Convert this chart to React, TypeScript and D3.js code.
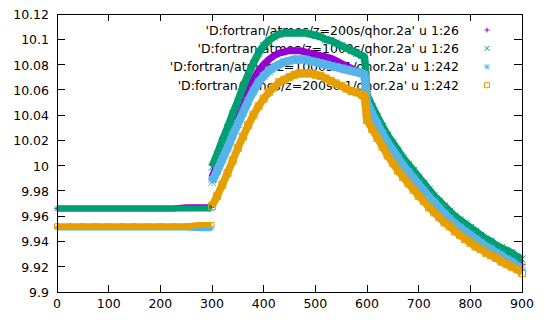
import React from "react";
import * as d3 from "d3";

// ---- axis ticks ----
const xTicks = [0, 100, 200, 300, 400, 500, 600, 700, 800, 900];
const xTickLabels = ["0", "100", "200", "300", "400", "500", "600", "700", "800", "900"];
const yTicks = [9.9, 9.92, 9.94, 9.96, 9.98, 10.0, 10.02, 10.04, 10.06, 10.08, 10.1, 10.12];
const yTickLabels = ["9.9", "9.92", "9.94", "9.96", "9.98", "10", "10.02", "10.04", "10.06", "10.08", "10.1", "10.12"];

// ---- legend ----
const legendLabels = [
  "'D:fortran/atmos/z=200s/qhor.2a' u 1:26",
  "'D:fortran/atmos/z=1000s/qhor.2a' u 1:26",
  "'D:fortran/atmos/z=1000s0.1/qhor.2a' u 1:242",
  "'D:fortran/atmos/z=200s0.1/qhor.2a' u 1:242",
];

// ---- time axes ----
const flatTimes = [0, 25, 50, 75, 100, 125, 150, 175, 200, 225, 250, 275, 299];
const mainTimes = [
  300, 310, 320, 330, 340, 350, 360, 370, 380, 390, 400, 410, 420, 430, 440, 450, 460, 470, 480, 490,
  500, 510, 520, 530, 540, 550, 560, 570, 580, 590, 595, 597, 598, 599,
  600, 610, 620, 630, 640, 650, 660, 670, 680, 690, 700, 710, 720, 730, 740, 750, 760, 770, 780, 790,
  800, 810, 820, 830, 840, 850, 860, 870, 880, 890, 900,
];

// ---- series 1: z=200s u 1:26 (purple +) ----
const purpleFlat = [9.966, 9.966, 9.966, 9.966, 9.966, 9.966, 9.966, 9.966, 9.966, 9.966, 9.967, 9.967, 9.967];
const purpleMain = [
  9.991, 10.001, 10.011, 10.021, 10.031, 10.041, 10.051, 10.06, 10.068, 10.075, 10.08, 10.084, 10.087, 10.089, 10.09, 10.091, 10.091, 10.091, 10.09, 10.089,
  10.088, 10.087, 10.086, 10.085, 10.083, 10.081, 10.079, 10.077, 10.075, 10.073, 10.072, 10.066, 10.06, 10.055,
  10.052, 10.043, 10.035, 10.027, 10.02, 10.014, 10.008, 10.002, 9.997, 9.992, 9.987, 9.982, 9.978, 9.973, 9.969, 9.965, 9.961, 9.957, 9.954, 9.951,
  9.948, 9.945, 9.942, 9.939, 9.937, 9.934, 9.932, 9.929, 9.927, 9.924, 9.922,
];

// ---- series 2: z=1000s u 1:26 (green x) ----
const greenFlat = [9.966, 9.966, 9.966, 9.966, 9.966, 9.966, 9.966, 9.966, 9.966, 9.966, 9.966, 9.966, 9.966];
const greenMain = [
  9.999, 10.009, 10.02, 10.03, 10.041, 10.051, 10.062, 10.072, 10.081, 10.089, 10.095, 10.099, 10.102, 10.104, 10.105, 10.105, 10.105, 10.105, 10.105, 10.104,
  10.103, 10.102, 10.1, 10.099, 10.097, 10.095, 10.093, 10.091, 10.089, 10.087, 10.086, 10.078, 10.07, 10.062,
  10.056, 10.047, 10.039, 10.031, 10.024, 10.018, 10.012, 10.006, 10.001, 9.996, 9.991, 9.986, 9.981, 9.976, 9.972, 9.968, 9.964, 9.96, 9.957, 9.954,
  9.951, 9.948, 9.945, 9.942, 9.94, 9.937, 9.935, 9.933, 9.931, 9.928, 9.926,
];

// ---- series 3: z=1000s0.1 u 1:242 (blue *) ----
const blueFlat = [9.951, 9.951, 9.951, 9.951, 9.951, 9.951, 9.951, 9.951, 9.951, 9.951, 9.951, 9.9505, 9.9505];
const blueMain = [
  9.987, 9.996, 10.005, 10.014, 10.024, 10.033, 10.042, 10.051, 10.059, 10.066, 10.071, 10.075, 10.078, 10.08, 10.082, 10.083, 10.084, 10.084, 10.084, 10.083,
  10.082, 10.081, 10.08, 10.079, 10.078, 10.077, 10.076, 10.075, 10.074, 10.073, 10.072, 10.065, 10.059, 10.054,
  10.05, 10.041, 10.033, 10.025, 10.018, 10.012, 10.006, 10.0, 9.995, 9.99, 9.985, 9.98, 9.975, 9.971, 9.966, 9.962, 9.958, 9.954, 9.951, 9.948,
  9.945, 9.942, 9.939, 9.936, 9.934, 9.931, 9.929, 9.926, 9.924, 9.921, 9.919,
];

// ---- series 4: z=200s0.1 u 1:242 (orange square) ----
const orangeFlat = [9.952, 9.952, 9.952, 9.952, 9.952, 9.952, 9.952, 9.952, 9.952, 9.952, 9.952, 9.953, 9.953];
const orangeMain = [
  9.968, 9.976, 9.985, 9.994, 10.004, 10.014, 10.023, 10.032, 10.04, 10.047, 10.053, 10.058, 10.062, 10.066, 10.068, 10.07, 10.072, 10.073, 10.073, 10.073,
  10.072, 10.071, 10.069, 10.067, 10.065, 10.063, 10.061, 10.059, 10.058, 10.056, 10.055, 10.05, 10.046, 10.041,
  10.036, 10.029, 10.022, 10.015, 10.008, 10.002, 9.996, 9.991, 9.986, 9.981, 9.976, 9.972, 9.967, 9.963, 9.959, 9.955, 9.952, 9.948, 9.945, 9.942,
  9.939, 9.936, 9.934, 9.931, 9.929, 9.927, 9.924, 9.922, 9.92, 9.918, 9.915,
];

const COLORS = ["#9400d3", "#009e73", "#56b4e9", "#e69f00"];
const MARKERS = ["plus", "cross", "star", "square"];
const MAIN_WIDTH = [7, 7.5, 8.5, 7.5];

type Pt = { t: number; v: number };

function markerPath(kind: string, s: number) {
  const plus = `M${-s},0H${s}M0,${-s}V${s}`;
  const cross = `M${-s},${-s}L${s},${s}M${-s},${s}L${s},${-s}`;
  if (kind === "plus") return plus;
  if (kind === "cross") return cross;
  if (kind === "star") return plus + cross;
  return `M${-s},${-s}H${s}V${s}H${-s}Z`;
}

export default function App() {
  const W = 545;
  const H = 320;
  const L = 57, R = 522, T = 14, B = 292;
  const x = d3.scaleLinear().domain([0, 900]).range([L, R]);
  const y = d3.scaleLinear().domain([9.9, 10.12]).range([B, T]);
  const font = "'DejaVu Sans', sans-serif";
  const fs = 12.5;

  const series = [
    { flat: purpleFlat, main: purpleMain },
    { flat: greenFlat, main: greenMain },
    { flat: blueFlat, main: blueMain },
    { flat: orangeFlat, main: orangeMain },
  ];

  const line = d3
    .line<Pt>()
    .x((d) => x(d.t))
    .y((d) => y(d.v));

  const legendY = [30, 48.4, 66.8, 85.2];

  return (
    <svg
      width={W}
      height={H}
      viewBox={`0 0 ${W} ${H}`}
      style={{ position: "absolute", left: 0, top: 0, background: "#fff" }}
    >
      <rect x={0} y={0} width={W} height={H} fill="#fff" />
      {/* ticks */}
      <g stroke="#000" strokeWidth={1} shapeRendering="crispEdges">
        {yTicks.map((v, i) => (
          <g key={"yt" + i}>
            <line x1={L} x2={L + 8} y1={y(v)} y2={y(v)} />
            <line x1={R} x2={R - 8} y1={y(v)} y2={y(v)} />
          </g>
        ))}
        {xTicks.map((v, i) => (
          <g key={"xt" + i}>
            <line x1={x(v)} x2={x(v)} y1={B} y2={B - 7} />
            <line x1={x(v)} x2={x(v)} y1={T} y2={T + 7} />
          </g>
        ))}
      </g>
      {/* tick labels */}
      <g fontFamily={font} fontSize={fs} fill="#000">
        {yTicks.map((v, i) => (
          <text key={"yl" + i} x={49} y={y(v) + 5} textAnchor="end">
            {yTickLabels[i]}
          </text>
        ))}
        {xTicks.map((v, i) => (
          <text key={"xl" + i} x={x(v)} y={307.5} textAnchor="middle">
            {xTickLabels[i]}
          </text>
        ))}
      </g>
      {/* legend text (drawn under the data) */}
      <g fontFamily={font} fontSize={fs} fill="#000">
        {legendLabels.map((lab, i) => (
          <text key={"lg" + i} x={459} y={legendY[i] + 4.5} textAnchor="end">
            {lab}
          </text>
        ))}
      </g>
      {/* data */}
      {series.map((s, si) => {
        const flatPts: Pt[] = flatTimes.map((t, i) => ({ t, v: s.flat[i] }));
        const mainPts: Pt[] = mainTimes.map((t, i) => ({ t, v: s.main[i] }));
        const mk = markerPath(MARKERS[si], 2.5);
        return (
          <g key={"s" + si} stroke={COLORS[si]} fill="none">
            <path d={line(flatPts) || ""} strokeWidth={6} />
            <path d={line(mainPts) || ""} strokeWidth={MAIN_WIDTH[si]} strokeLinejoin="round" />
            {mainPts.map((p, i) => (
              <path key={i} d={markerPath(MARKERS[si], MAIN_WIDTH[si] / 2 - 0.2)} transform={`translate(${x(p.t)},${y(p.v)})`} strokeWidth={1} />
            ))}
            {flatPts.map((p, i) => (
              <path key={"f" + i} d={mk} transform={`translate(${x(p.t)},${y(p.v)})`} strokeWidth={1} />
            ))}
          </g>
        );
      })}
      {/* legend samples */}
      {legendLabels.map((_, i) => (
        <path
          key={"ls" + i}
          d={markerPath(MARKERS[i], 2.5)}
          transform={`translate(487,${legendY[i]})`}
          stroke={COLORS[i]}
          fill="none"
          strokeWidth={1}
        />
      ))}
      {/* border */}
      <rect x={L} y={T} width={R - L} height={B - T} fill="none" stroke="#000" strokeWidth={1} shapeRendering="crispEdges" />
    </svg>
  );
}
